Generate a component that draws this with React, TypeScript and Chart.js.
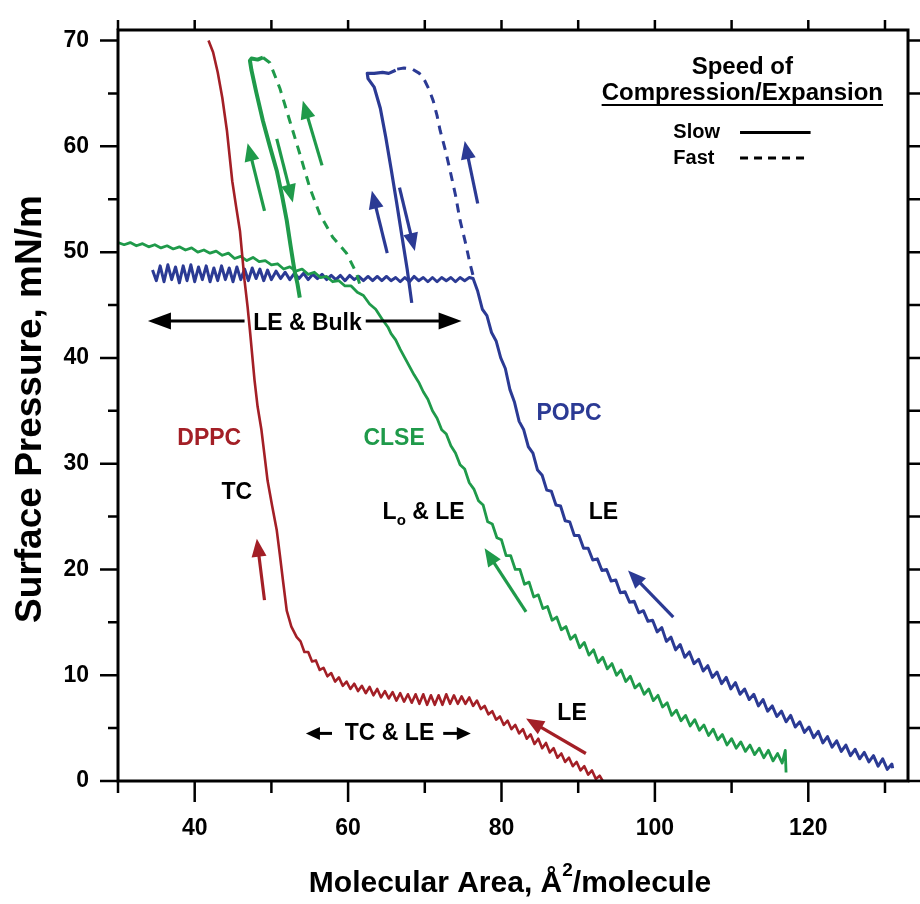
import React, { useEffect, useRef } from 'react';
import { Chart, registerables } from 'chart.js';
Chart.register(...registerables);

type P = [number, number];

// ---------- DATA (molecular area Å²/molecule, surface pressure mN/m) ----------
const dppcSlow: P[] = [
  [41.8, 70.0], [42.4, 68.9], [43.0, 67.0], [43.6, 64.6], [44.2, 61.5], [44.9, 56.7], [45.4, 54.3], [45.9, 52.0],
  [46.5, 47.3], [46.9, 44.8], [47.2, 42.6], [47.8, 37.9], [48.2, 35.4], [48.7, 33.2], [49.1, 30.8], [49.5, 28.4],
  [50.1, 26.0], [50.7, 23.7], [51.1, 21.4], [51.5, 19.0], [52.0, 16.1], [52.6, 14.6], [53.3, 13.6],
  [53.8, 13.2], [54.3, 12.2], [54.8, 12.2], [55.3, 11.3], [55.8, 11.4], [56.3, 10.5], [56.8, 10.7], [57.3, 9.9],
  [57.8, 10.2], [58.3, 9.4], [58.8, 9.8], [59.3, 9.0], [59.8, 9.4], [60.3, 8.7], [60.8, 9.2], [61.3, 8.5],
  [61.8, 9.0], [62.3, 8.3], [62.8, 8.9], [63.3, 8.1], [63.8, 8.7], [64.3, 7.9], [64.8, 8.5], [65.3, 7.8],
  [65.8, 8.4], [66.3, 7.6], [66.8, 8.3], [67.3, 7.5], [67.8, 8.2], [68.3, 7.4], [68.8, 8.2], [69.3, 7.3],
  [69.8, 8.2], [70.3, 7.2], [70.8, 8.1], [71.3, 7.2], [71.8, 8.1], [72.3, 7.2], [72.8, 8.2], [73.3, 7.3],
  [73.8, 8.1], [74.3, 7.3], [74.8, 8.0], [75.3, 7.3], [75.8, 7.9], [76.3, 7.1], [76.8, 7.6], [77.3, 6.8],
  [77.8, 7.1], [78.3, 6.3], [78.8, 6.6], [79.3, 5.8], [79.8, 6.1], [80.3, 5.3], [80.8, 5.7], [81.3, 4.9],
  [81.8, 5.3], [82.3, 4.5], [82.8, 4.9], [83.3, 4.0], [83.8, 4.4], [84.3, 3.5], [84.8, 4.0], [85.3, 3.1],
  [85.8, 3.6], [86.3, 2.7], [86.8, 3.1], [87.3, 2.2], [87.8, 2.6], [88.3, 1.8], [88.8, 2.2], [89.3, 1.4],
  [89.8, 1.8], [90.3, 1.0], [90.8, 1.4], [91.3, 0.6], [91.8, 1.0], [92.3, 0.2], [92.8, 0.5], [93.2, 0.0],
];

const clseSlow: P[] = [
  [30.0, 50.9], [30.8, 50.7], [31.6, 50.9], [32.4, 50.6], [33.2, 50.8], [34.0, 50.5], [34.8, 50.7], [35.6, 50.4],
  [36.4, 50.6], [37.2, 50.3], [38.0, 50.5], [38.8, 50.2], [39.6, 50.4], [40.4, 50.0], [41.2, 50.2], [42.0, 49.9],
  [42.8, 50.1], [43.6, 49.7], [44.4, 49.9], [45.2, 49.4], [46.0, 49.6], [46.8, 49.2], [47.6, 49.5], [48.4, 49.1],
  [49.2, 49.2], [50.0, 48.8], [50.8, 48.9], [51.6, 48.4], [52.4, 48.6], [53.2, 48.2], [54.0, 48.4], [54.8, 47.9],
  [55.6, 48.1], [56.4, 47.6], [57.2, 47.7], [58.0, 47.2], [58.8, 47.3], [59.6, 46.8], [60.4, 46.8], [61.2, 46.2],
  [62.0, 45.9], [62.8, 45.1], [63.6, 44.6], [64.4, 43.7], [65.2, 42.9], [65.6, 42.3], [66.2, 41.7], [66.8, 40.8],
  [67.4, 40.0], [68.0, 39.2], [68.6, 38.4], [69.2, 37.7], [69.8, 36.8], [70.4, 36.1], [71.0, 35.0], [71.6, 34.3],
  [72.2, 33.2], [72.8, 32.8], [73.4, 31.7], [74.0, 31.0], [74.6, 29.9], [75.2, 29.5], [75.8, 28.2], [76.4, 27.6],
  [77.0, 26.5], [77.6, 26.1], [78.2, 24.5], [78.8, 24.3], [79.4, 23.0], [80.0, 22.8], [80.6, 21.3], [81.2, 21.3],
  [81.8, 20.0], [82.4, 20.0], [83.0, 18.6], [83.6, 18.8], [84.2, 17.4], [84.8, 17.6], [85.4, 16.3], [86.0, 16.5],
  [86.6, 15.2], [87.2, 15.5], [87.8, 14.3], [88.4, 14.6], [89.0, 13.4], [89.6, 13.8], [90.2, 12.6], [90.8, 13.1],
  [91.4, 11.9], [92.0, 12.4], [92.6, 11.2], [93.2, 11.7], [93.8, 10.6], [94.4, 11.1], [95.0, 10.0], [95.6, 10.5],
  [96.2, 9.4], [96.8, 9.9], [97.4, 8.8], [98.0, 9.2], [98.6, 8.2], [99.2, 8.7], [99.8, 7.6], [100.4, 8.1],
  [101.0, 7.0], [101.6, 7.4], [102.2, 6.2], [102.8, 6.7], [103.4, 5.7], [104.0, 6.2], [104.6, 5.2], [105.2, 5.8],
  [105.8, 4.8], [106.4, 5.3], [107.0, 4.3], [107.6, 4.9], [108.2, 3.9], [108.8, 4.4], [109.4, 3.4], [110.0, 4.0],
  [110.6, 3.1], [111.2, 3.7], [111.8, 2.8], [112.4, 3.4], [113.0, 2.5], [113.6, 3.1], [114.2, 2.2], [114.8, 2.9],
  [115.4, 1.9], [116.0, 2.6], [116.6, 1.7], [117.0, 2.9], [117.1, 0.8],
];

const clseSlowLoop: P[] = [
  [53.7, 45.7], [53.4, 47.0], [53.0, 48.3], [52.5, 50.6], [52.0, 53.0], [51.4, 55.3], [50.7, 57.7], [49.8, 60.0],
  [48.9, 62.4], [48.0, 65.2], [47.4, 67.2], [47.2, 68.1], [47.4, 68.3], [48.2, 68.2], [48.9, 68.4],
];

const clseFast: P[] = [
  [48.9, 68.4], [49.8, 67.9], [51.1, 65.5], [52.4, 62.4], [53.7, 59.3], [55.0, 56.1], [56.3, 53.6], [58.0, 51.4],
  [59.8, 49.9], [61.1, 48.0], [61.5, 47.0],
];

const popcSlow: P[] = [
  [34.5, 48.3], [35.0, 47.3], [35.5, 48.7], [36.0, 47.2], [36.5, 48.8], [37.0, 47.4], [37.5, 48.6], [38.0, 47.1],
  [38.5, 48.7], [39.0, 47.3], [39.5, 48.8], [40.0, 47.2], [40.5, 48.6], [41.0, 47.4], [41.5, 48.7], [42.0, 47.2],
  [42.5, 48.5], [43.0, 47.3], [43.5, 48.7], [44.0, 47.4], [44.5, 48.5], [45.0, 47.2], [45.5, 48.6], [46.0, 47.4],
  [46.5, 48.4], [47.0, 47.3], [47.5, 48.5], [48.0, 47.5], [48.5, 48.4], [49.0, 47.3], [49.5, 48.3], [50.0, 47.4],
  [50.6, 48.2], [51.2, 47.5], [51.8, 48.1], [52.4, 47.4], [53.0, 48.0], [53.6, 47.5], [54.2, 48.0], [54.8, 47.4],
  [55.4, 47.9], [56.0, 47.5], [56.6, 47.9], [57.2, 47.4], [57.8, 47.8], [58.4, 47.4], [59.0, 47.8], [59.6, 47.3],
  [60.2, 47.8], [60.8, 47.4], [61.4, 47.7], [62.0, 47.3], [62.6, 47.7], [63.2, 47.3], [63.8, 47.7], [64.4, 47.3],
  [65.0, 47.7], [65.6, 47.3], [66.2, 47.6], [66.8, 47.2], [67.4, 47.6], [68.0, 47.2], [68.6, 47.7], [69.2, 47.3],
  [69.8, 47.6], [70.4, 47.2], [71.0, 47.6], [71.6, 47.2], [72.2, 47.6], [72.8, 47.3], [73.4, 47.6], [74.0, 47.2],
  [74.6, 47.6], [75.2, 47.3], [75.8, 47.6], [76.3, 47.5],
  [76.9, 46.3], [77.5, 44.6], [78.1, 44.0], [78.7, 42.4], [79.3, 41.6], [79.9, 40.0], [80.5, 39.0], [81.1, 37.0],
  [81.7, 35.8], [82.3, 34.0], [82.9, 33.2], [83.5, 31.6], [84.1, 31.0], [84.7, 29.4], [85.3, 28.9], [85.9, 27.5],
  [86.5, 27.4], [87.1, 26.1], [87.7, 26.0], [88.3, 24.6], [88.9, 24.5], [89.5, 23.2], [90.1, 23.2], [90.7, 22.0],
  [91.3, 22.0], [91.9, 20.9], [92.5, 21.0], [93.1, 19.9], [93.7, 20.0], [94.3, 18.9], [94.9, 19.0], [95.5, 17.8],
  [96.1, 17.9], [96.7, 16.9], [97.3, 17.0], [97.9, 15.9], [98.5, 16.1], [99.1, 15.1], [99.7, 15.2], [100.3, 14.1],
  [100.9, 14.5], [101.5, 13.2], [102.1, 13.6], [102.7, 12.4], [103.3, 12.9], [103.9, 11.7], [104.5, 12.2], [105.1, 11.1],
  [105.7, 11.5], [106.3, 10.4], [106.9, 10.9], [107.5, 9.8], [108.1, 10.3], [108.7, 9.2], [109.3, 9.8], [109.9, 8.7],
  [110.5, 9.3], [111.1, 8.2], [111.7, 8.7], [112.3, 7.7], [112.9, 8.2], [113.5, 7.1], [114.1, 7.7], [114.7, 6.6],
  [115.3, 7.1], [115.9, 6.1], [116.5, 6.6], [117.1, 5.6], [117.7, 6.2], [118.3, 5.1], [118.9, 5.6], [119.5, 4.6],
  [120.1, 5.1], [120.7, 4.1], [121.3, 4.7], [121.9, 3.6], [122.5, 4.2], [123.1, 3.2], [123.7, 3.8], [124.3, 2.8],
  [124.9, 3.4], [125.5, 2.4], [126.1, 3.0], [126.7, 2.1], [127.3, 2.7], [127.9, 1.8], [128.5, 2.4], [129.1, 1.4],
  [129.7, 2.1], [130.3, 1.1], [130.9, 1.6], [131.0, 1.2],
];

const popcSlowLoop: P[] = [
  [68.3, 45.2], [67.7, 48.4], [67.0, 51.6], [66.3, 54.8], [65.6, 57.9], [64.9, 60.9], [64.2, 63.6], [63.4, 65.6],
  [62.6, 66.4], [62.5, 66.9], [63.4, 66.9], [64.5, 67.0], [65.3, 66.9], [66.2, 67.2],
];

const popcFast: P[] = [
  [66.4, 67.3], [67.3, 67.4], [68.4, 67.3], [69.3, 66.9], [70.0, 66.2], [70.6, 65.3], [71.1, 64.3], [71.6, 62.9],
  [72.0, 61.5], [72.7, 59.6], [73.3, 57.7], [74.0, 55.4], [74.6, 53.0], [75.3, 50.9], [75.9, 48.9], [76.4, 47.5],
];

const xTicks = [30, 40, 50, 60, 70, 80, 90, 100, 110, 120, 130];
const xTickLabels = [40, 60, 80, 100, 120];
const yTicks = [0, 5, 10, 15, 20, 25, 30, 35, 40, 45, 50, 55, 60, 65, 70];
const yTickLabels = [0, 10, 20, 30, 40, 50, 60, 70];

// ---------- STYLE / ANNOTATIONS ----------
const RED = '#A31F26';
const GREEN = '#1F9A4A';
const BLUE = '#2B3A94';
const FONT = '"Liberation Sans", Arial, Helvetica, sans-serif';

const colorArrows: { from: P; to: P; color: string }[] = [
  { from: [49.1, 17.1], to: [48.1, 22.9], color: RED },
  { from: [91.0, 2.6], to: [83.2, 5.9], color: RED },
  { from: [83.2, 16.0], to: [77.8, 22.0], color: GREEN },
  { from: [102.4, 15.5], to: [96.5, 19.9], color: BLUE },
  { from: [49.1, 53.9], to: [46.9, 60.3], color: GREEN },
  { from: [50.7, 60.7], to: [52.8, 54.7], color: GREEN },
  { from: [56.6, 58.2], to: [54.1, 64.3], color: GREEN },
  { from: [65.1, 49.9], to: [63.1, 55.8], color: BLUE },
  { from: [66.7, 56.1], to: [68.7, 50.1], color: BLUE },
  { from: [76.9, 54.6], to: [75.2, 60.5], color: BLUE },
];

const labels: { text: string; at: P; color: string }[] = [
  { text: 'DPPC', at: [41.9, 32.4], color: RED },
  { text: 'TC', at: [45.5, 27.3], color: '#000' },
  { text: 'CLSE', at: [66.0, 32.4], color: GREEN },
  { text: 'POPC', at: [88.8, 34.7], color: BLUE },
  { text: 'LE', at: [93.3, 25.4], color: '#000' },
  { text: 'LE', at: [89.2, 6.4], color: '#000' },
  { text: 'LE & Bulk', at: [54.7, 43.2], color: '#000' },
  { text: 'TC & LE', at: [65.4, 4.5], color: '#000' },
];

function drawArrow(ctx: CanvasRenderingContext2D, x1: number, y1: number, x2: number, y2: number,
  color: string, lw: number, hl: number, hw: number) {
  const ang = Math.atan2(y2 - y1, x2 - x1);
  const c = Math.cos(ang), s = Math.sin(ang);
  const bx = x2 - hl * c, by = y2 - hl * s;
  ctx.strokeStyle = color;
  ctx.fillStyle = color;
  ctx.lineWidth = lw;
  ctx.lineCap = 'butt';
  ctx.beginPath();
  ctx.moveTo(x1, y1);
  ctx.lineTo(bx + c, by + s);
  ctx.stroke();
  ctx.beginPath();
  ctx.moveTo(x2, y2);
  ctx.lineTo(bx + (hw / 2) * s, by - (hw / 2) * c);
  ctx.lineTo(bx - (hw / 2) * s, by + (hw / 2) * c);
  ctx.closePath();
  ctx.fill();
}

const overlay = {
  id: 'overlay',
  afterDraw(chart: any) {
    const { ctx, chartArea: a, scales } = chart;
    const X = (v: number) => scales.x.getPixelForValue(v);
    const Y = (v: number) => scales.y.getPixelForValue(v);
    ctx.save();

    // frame + ticks
    ctx.strokeStyle = '#000';
    ctx.lineWidth = 3;
    ctx.strokeRect(a.left, a.top, a.right - a.left, a.bottom - a.top);
    ctx.lineWidth = 2.5;
    ctx.beginPath();
    for (const v of xTicks) {
      const px = X(v);
      const major = xTickLabels.includes(v);
      ctx.moveTo(px, a.bottom);
      ctx.lineTo(px, a.bottom + (major ? 21 : 12));
      ctx.moveTo(px, a.top);
      ctx.lineTo(px, a.top - 10);
    }
    for (const v of yTicks) {
      const py = Y(v);
      const major = yTickLabels.includes(v);
      ctx.moveTo(a.left, py);
      ctx.lineTo(a.left - (major ? 18 : 10), py);
      ctx.moveTo(a.right, py);
      ctx.lineTo(a.right + 12, py);
    }
    ctx.stroke();

    // tick labels
    ctx.fillStyle = '#000';
    ctx.font = `bold 23px ${FONT}`;
    ctx.textBaseline = 'middle';
    ctx.textAlign = 'right';
    for (const v of yTickLabels) ctx.fillText(String(v), a.left - 29, Y(v));
    ctx.textAlign = 'center';
    for (const v of xTickLabels) ctx.fillText(String(v), X(v), a.bottom + 48);

    // axis titles
    const xt1 = 'Molecular Area, Å';
    const xt2 = '2';
    const xt3 = '/molecule';
    ctx.font = `bold 30px ${FONT}`;
    const w1 = ctx.measureText(xt1).width;
    const w3 = ctx.measureText(xt3).width;
    ctx.font = `bold 19px ${FONT}`;
    const w2 = ctx.measureText(xt2).width;
    const total = w1 + w2 + w3;
    const sx = 510 - total / 2;
    const ty = a.bottom + 103;
    ctx.textAlign = 'left';
    ctx.font = `bold 30px ${FONT}`;
    ctx.fillText(xt1, sx, ty);
    ctx.font = `bold 19px ${FONT}`;
    ctx.fillText(xt2, sx + w1, ty - 13);
    ctx.font = `bold 30px ${FONT}`;
    ctx.fillText(xt3, sx + w1 + w2, ty);

    ctx.save();
    ctx.translate(31, 409);
    ctx.rotate(-Math.PI / 2);
    ctx.textAlign = 'center';
    ctx.font = `bold 37px ${FONT}`;
    ctx.fillText('Surface Pressure, mN/m', 0, 0);
    ctx.restore();

    // legend
    ctx.textAlign = 'center';
    ctx.font = `bold 24px ${FONT}`;
    ctx.fillText('Speed of', X(111.4), Y(67.5));
    ctx.fillText('Compression/Expansion', X(111.4), Y(65.0));
    const cw = ctx.measureText('Compression/Expansion').width;
    ctx.lineWidth = 2;
    ctx.beginPath();
    ctx.moveTo(X(111.4) - cw / 2, Y(63.9));
    ctx.lineTo(X(111.4) + cw / 2, Y(63.9));
    ctx.stroke();
    ctx.textAlign = 'left';
    ctx.font = `bold 20px ${FONT}`;
    ctx.fillText('Slow', X(102.4), Y(61.3));
    ctx.fillText('Fast', X(102.4), Y(58.9));
    ctx.lineWidth = 3;
    ctx.beginPath();
    ctx.moveTo(X(111.1), Y(61.3));
    ctx.lineTo(X(120.3), Y(61.3));
    ctx.stroke();
    ctx.setLineDash([8, 6]);
    ctx.beginPath();
    ctx.moveTo(X(111.1), Y(58.9));
    ctx.lineTo(X(119.6), Y(58.9));
    ctx.stroke();
    ctx.setLineDash([]);

    // text labels
    ctx.textAlign = 'center';
    ctx.font = `bold 23px ${FONT}`;
    for (const l of labels) {
      ctx.fillStyle = l.color;
      ctx.fillText(l.text, X(l.at[0]), Y(l.at[1]));
    }
    // L_o & LE
    ctx.fillStyle = '#000';
    ctx.textAlign = 'left';
    let lx = X(64.5);
    const ly = Y(25.4);
    ctx.font = `bold 23px ${FONT}`;
    ctx.fillText('L', lx, ly);
    lx += ctx.measureText('L').width;
    ctx.font = `bold 15px ${FONT}`;
    ctx.fillText('o', lx, ly + 9);
    lx += ctx.measureText('o').width;
    ctx.font = `bold 23px ${FONT}`;
    ctx.fillText(' & LE', lx, ly);

    // black double arrows
    drawArrow(ctx, X(46.5), Y(43.5), X(33.9), Y(43.5), '#000', 3, 23, 17);
    drawArrow(ctx, X(62.3), Y(43.5), X(74.8), Y(43.5), '#000', 3, 23, 17);
    drawArrow(ctx, X(57.9), Y(4.5), X(54.5), Y(4.5), '#000', 3, 14, 13);
    drawArrow(ctx, X(72.4), Y(4.5), X(76.0), Y(4.5), '#000', 3, 14, 13);

    // colored arrows
    for (const ar of colorArrows) {
      drawArrow(ctx, X(ar.from[0]), Y(ar.from[1]), X(ar.to[0]), Y(ar.to[1]), ar.color, 3.2, 18, 15);
    }
    ctx.restore();
  },
};

const toXY = (d: P[]) => d.map(([x, y]) => ({ x, y }));

export default function App() {
  const ref = useRef<HTMLCanvasElement | null>(null);
  useEffect(() => {
    document.body.style.margin = '0';
    const canvas = ref.current;
    if (!canvas) return;
    const line = (data: P[], color: string, dashed = false, width = 2.8) => ({
      data: toXY(data),
      showLine: true,
      borderColor: color,
      backgroundColor: color,
      borderWidth: width,
      borderDash: dashed ? [9, 7] : [],
      pointRadius: 0,
      tension: 0,
      borderJoinStyle: 'round' as const,
      fill: false,
    });
    const chart = new Chart(canvas, {
      type: 'scatter',
      data: {
        datasets: [
          line(dppcSlow, RED, false, 2.6),
          line(clseSlow, GREEN),
          line(clseSlowLoop, GREEN, false, 4),
          line(clseFast, GREEN, true, 3),
          line(popcSlow, BLUE, false, 3),
          line(popcSlowLoop, BLUE, false, 3.2),
          line(popcFast, BLUE, true, 3),
        ],
      },
      options: {
        responsive: false,
        animation: false,
        layout: { padding: { top: 30, right: 12, left: 0, bottom: 0 } },
        plugins: { legend: { display: false }, tooltip: { enabled: false } },
        scales: {
          x: {
            type: 'linear', min: 30, max: 133,
            ticks: { display: false }, grid: { display: false }, border: { display: false },
            afterFit: (s: any) => { s.height = 123; },
          },
          y: {
            type: 'linear', min: 0, max: 71,
            ticks: { display: false }, grid: { display: false }, border: { display: false },
            afterFit: (s: any) => { s.width = 118; },
          },
        },
      },
      plugins: [overlay],
    } as any);
    return () => chart.destroy();
  }, []);
  return <canvas ref={ref} width={920} height={904} style={{ display: 'block' }} />;
}
